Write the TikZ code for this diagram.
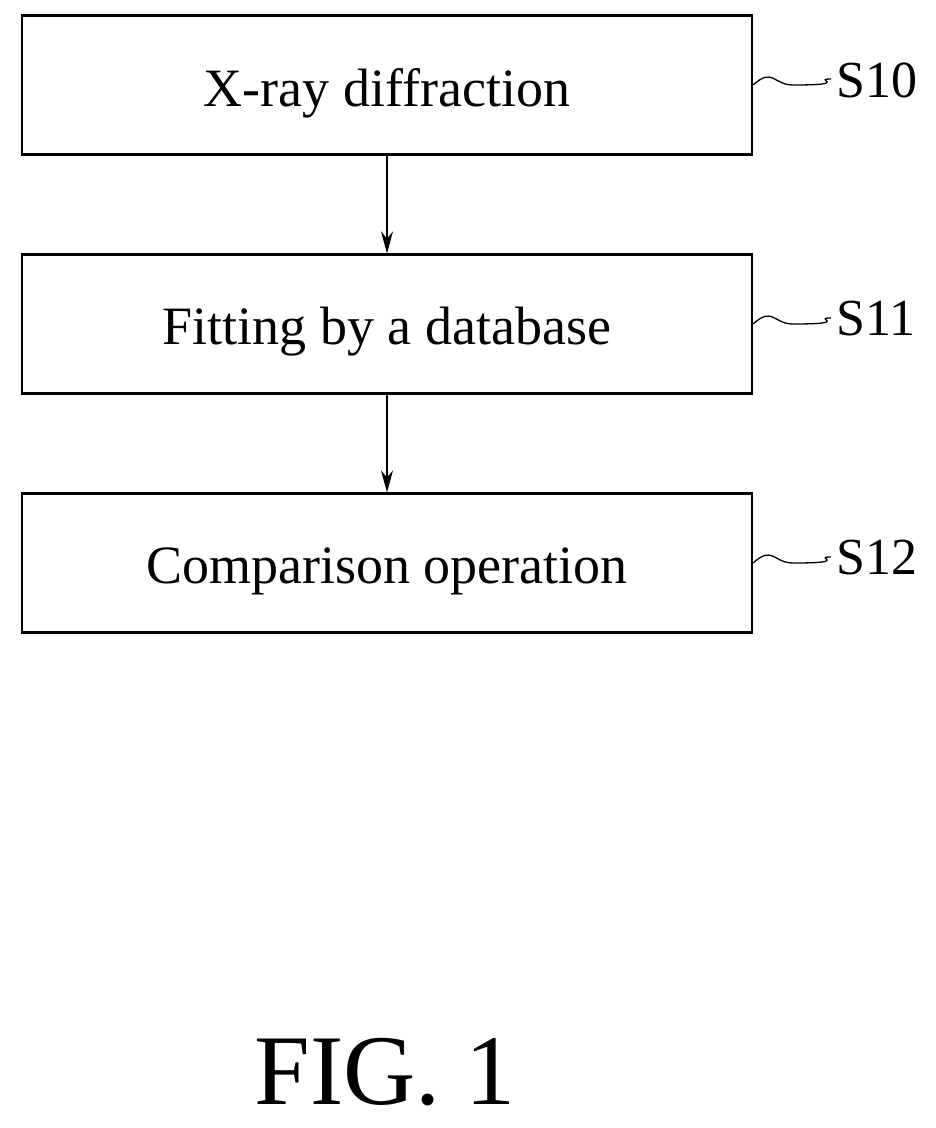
\documentclass[tikz,border=0pt]{standalone}
\usepackage{fontspec}
\setmainfont{Liberation Serif}
\usetikzlibrary{arrows.meta}
\begin{document}
\begin{tikzpicture}[x=1pt,y=-1pt,
  box/.style={draw,line width=2.2pt,minimum width=730pt,minimum height=139pt,inner sep=0pt},
  txt/.style={font=\fontsize{54}{58}\selectfont,inner sep=0pt},
  lab/.style={font=\fontsize{52}{56}\selectfont,anchor=west,inner sep=0pt},
  arr/.style={line width=1.3pt,-{Stealth[length=22pt,width=12pt]}},
  sq/.style={line width=1.3pt}]
\useasboundingbox (0,0) rectangle (936,1128);
\node[box] (b1) at (387,85) {};
\node[box] (b2) at (387,324) {};
\node[box] (b3) at (387,563) {};
\node[txt] (t1) at (387,93) {X-ray diffraction};
\node[txt] (t2) at (387,332) {Fitting by a database};
\node[txt] (t3) at (387,571) {Comparison operation};
\draw[arr] (b1) -- (b2);
\draw[arr] (b2) -- (b3);
\foreach \n/\y/\t in {1/85/S10,2/324/S11,3/563/S12}{
  \node[lab] (l\n) at (836,\y-5) {\t};
  \coordinate (s\n) at (b\n.east|-0,\y);
  \draw[sq] (s\n) .. controls +(20,-18) and +(-20,0) .. +(40,0) .. controls +(60,0) and +(-20,0) .. +(78,-6);
}
\node[font=\fontsize{100}{110}\selectfont,inner sep=0pt] (fig) at (385,1072) {FIG. 1};
\end{tikzpicture}
\end{document}
